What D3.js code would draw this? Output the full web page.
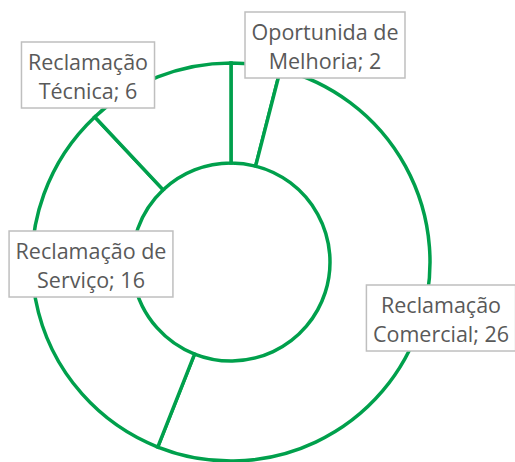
<!DOCTYPE html>
<html>
<head>
<meta charset="utf-8">
<script src="https://cdn.jsdelivr.net/npm/d3@7"></script>
<style>
  body { margin: 0; background: #fff; }
  svg { display: block; }
</style>
</head>
<body>
<div id="chart"></div>
<script>
// data
var categories = ["Oportunida de Melhoria", "Reclamação Comercial", "Reclamação de Serviço", "Reclamação Técnica"];
var values = [2, 26, 16, 6];
// how the label text wraps in the original
var labelLines = [
  ["Oportunida de", "Melhoria; 2"],
  ["Reclamação", "Comercial; 26"],
  ["Reclamação de", "Serviço; 16"],
  ["Reclamação", "Técnica; 6"]
];

var width = 515, height = 462;
var cx = 231, cy = 262;
var outerR = 199, innerR = 99;
var green = "#00a04c";

// label box centers (layout, Excel moved them off the slices)
var labelPos = [[325, 45], [441, 318], [91, 264], [88, 75]];

var svg = d3.select("#chart")
  .append("svg")
    .attr("width", width)
    .attr("height", height);

var g = svg.append("g")
    .attr("transform", "translate(" + cx + "," + cy + ")");

var pie = d3.pie()
    .sort(null)
    .value(function(d) { return d; });

var arc = d3.arc()
    .innerRadius(innerR)
    .outerRadius(outerR);

var slices = pie(values);

g.selectAll("path")
  .data(slices)
  .enter()
  .append("path")
    .attr("d", arc)
    .style("fill", "#fff")
    .style("stroke", green)
    .style("stroke-width", 3.5)
    .style("stroke-linejoin", "miter");

// data labels with a grey box
var labels = svg.append("g")
  .selectAll("g")
  .data(slices)
  .enter()
  .append("g")
    .attr("transform", function(d, i) { return "translate(" + labelPos[i][0] + "," + labelPos[i][1] + ")"; });

labels.append("rect")
    .style("fill", "#fff")
    .style("stroke", "#bfbfbf")
    .style("stroke-width", 1.5);

labels.each(function(d, i) {
  var lg = d3.select(this);
  var t = lg.append("text")
      .attr("text-anchor", "middle")
      .style("font-family", "'Open Sans', sans-serif")
      .style("font-size", "21.5px")
      .style("fill", "#595959");
  labelLines[i].forEach(function(line, j) {
    t.append("tspan")
      .attr("x", 0)
      .attr("y", j == 0 ? -5 : 24)
      .text(line);
  });
  var w = t.node().getBBox().width + 13;
  lg.select("rect")
    .attr("x", -w / 2)
    .attr("y", -33)
    .attr("width", w)
    .attr("height", 66);
});
</script>
</body>
</html>
